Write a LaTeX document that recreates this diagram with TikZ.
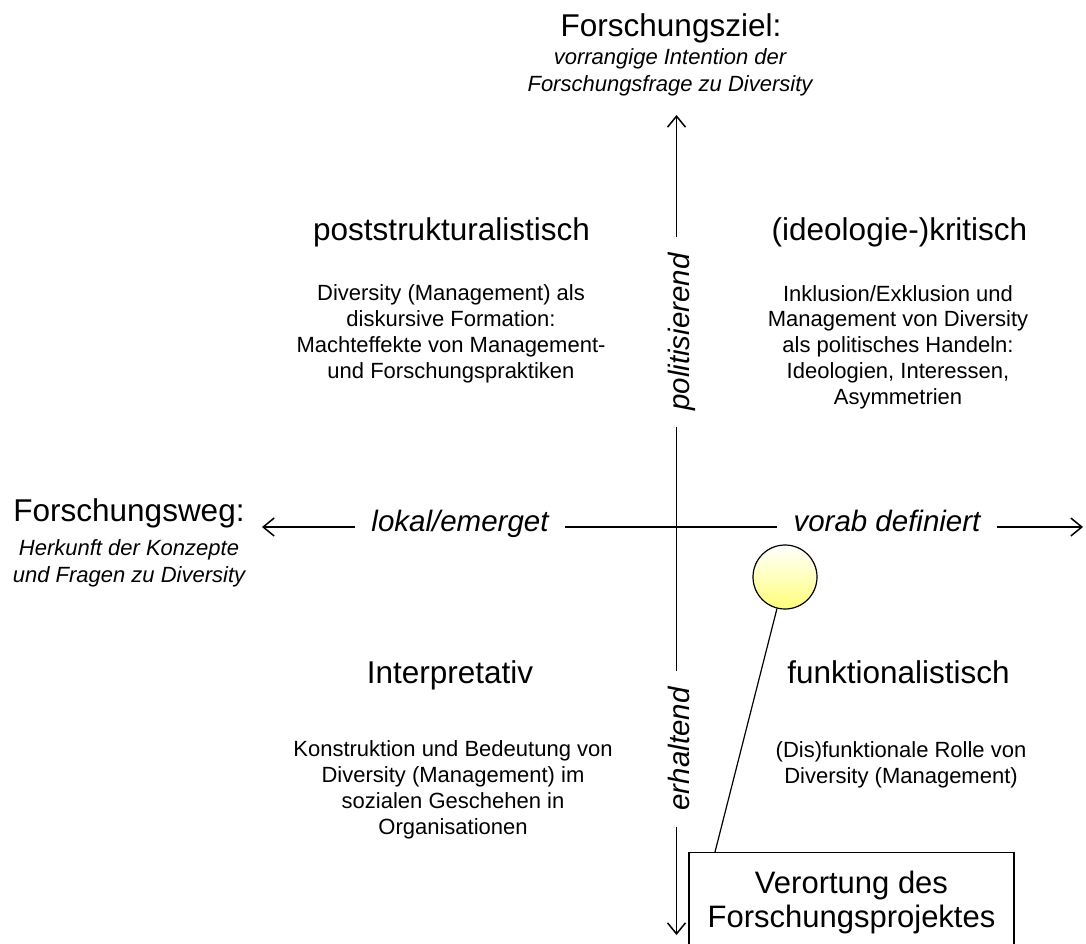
\documentclass[tikz,border=0pt]{standalone}
\usepackage{fontspec}
\setmainfont{Liberation Sans}
\usetikzlibrary{arrows.meta}
\tikzset{
  axisline/.style={line width=1.5pt, draw=black},
  tipped/.style={-{Straight Barb[length=11pt,width=18pt,line width=1.5pt]}},
  headtext/.style={font=\fontsize{31.5}{36}\selectfont, anchor=base, inner sep=0pt},
  bodytext/.style={font=\fontsize{22}{25.7}\selectfont, align=center, anchor=base, inner sep=0pt},
  subtext/.style={font=\fontsize{22}{27}\selectfont\itshape, align=center, anchor=base, inner sep=0pt},
  axlabel/.style={font=\fontsize{29.5}{34}\selectfont\itshape, anchor=base, inner xsep=16pt, inner ysep=0pt},
  ballnode/.style={draw, circle, minimum size=64pt, inner sep=0pt, line width=1.2pt,
    top color=white, bottom color={rgb,255:red,255;green,255;blue,120}},
  boxnode/.style={draw, line width=1.2pt, anchor=north, align=center, minimum width=325pt,
    inner ysep=18.5pt, font=\fontsize{31}{34}\selectfont}
}
\begin{document}
\begin{tikzpicture}[x=1pt,y=-1pt]
\path[use as bounding box] (0,0) rectangle (1086,943);
% axis end points
\coordinate (top) at (676.5,115);
\coordinate (bottom) at (676.5,935);
\coordinate (left) at (262,527);
\coordinate (right) at (1083,527);
% axis labels
\node[axlabel, rotate=90] (polit) at (689,332) {politisierend};
\node[axlabel, rotate=90] (erh) at (689,749) {erhaltend};
\node[axlabel] (lokal) at (460,531) {lokal/emerget};
\node[axlabel] (vorab) at (887,531) {vorab definiert};
% axes
\draw[axisline,tipped] (top |- polit.east) -- (top);
\draw[axisline] (top |- polit.west) -- (top |- erh.east);
\draw[axisline,tipped] (top |- erh.west) -- (bottom);
\draw[axisline,tipped] (lokal.west |- left) -- (left);
\draw[axisline] (lokal.east |- left) -- (vorab.west |- left);
\draw[axisline,tipped] (vorab.east |- right) -- (right);
% axis titles (multi-line nodes: base = baseline of last line)
\node[headtext] (ziel) at (671,36) {Forschungsziel:};
\node[subtext] (zielsub) at (670,91) {vorrangige Intention der\\Forschungsfrage zu Diversity};
\node[headtext] (weg) at (129,521) {Forschungsweg:};
\node[subtext] (wegsub) at (129,582) {Herkunft der Konzepte\\und Fragen zu Diversity};
% quadrants
\node[headtext] (post) at (451.5,240) {poststrukturalistisch};
\node[bodytext] (postb) at (451,378) {Diversity (Management) als\\diskursive Formation:\\Machteffekte von Management-\\und Forschungspraktiken};
\node[headtext] (krit) at (899.5,240) {(ideologie-)kritisch};
\node[bodytext] (kritb) at (898,404) {Inklusion/Exklusion und\\Management von Diversity\\als politisches Handeln:\\Ideologien, Interessen,\\Asymmetrien};
\node[headtext] (interp) at (450,683) {Interpretativ};
\node[bodytext] (interpb) at (453,834) {Konstruktion und Bedeutung von\\Diversity (Management) im\\sozialen Geschehen in\\Organisationen};
\node[headtext] (funk) at (898.5,683) {funktionalistisch};
\node[bodytext] (funkb) at (901,783) {(Dis)funktionale Rolle von\\Diversity (Management)};
% marker and box
\node[ballnode] (ball) at (785,577) {};
\coordinate (boxpt) at (715,852);
\draw[line width=1.2pt] (ball) -- (boxpt);
\node[boxnode] (verort) at (851.5,852) {Verortung des\\Forschungsprojektes};
\end{tikzpicture}
\end{document}
